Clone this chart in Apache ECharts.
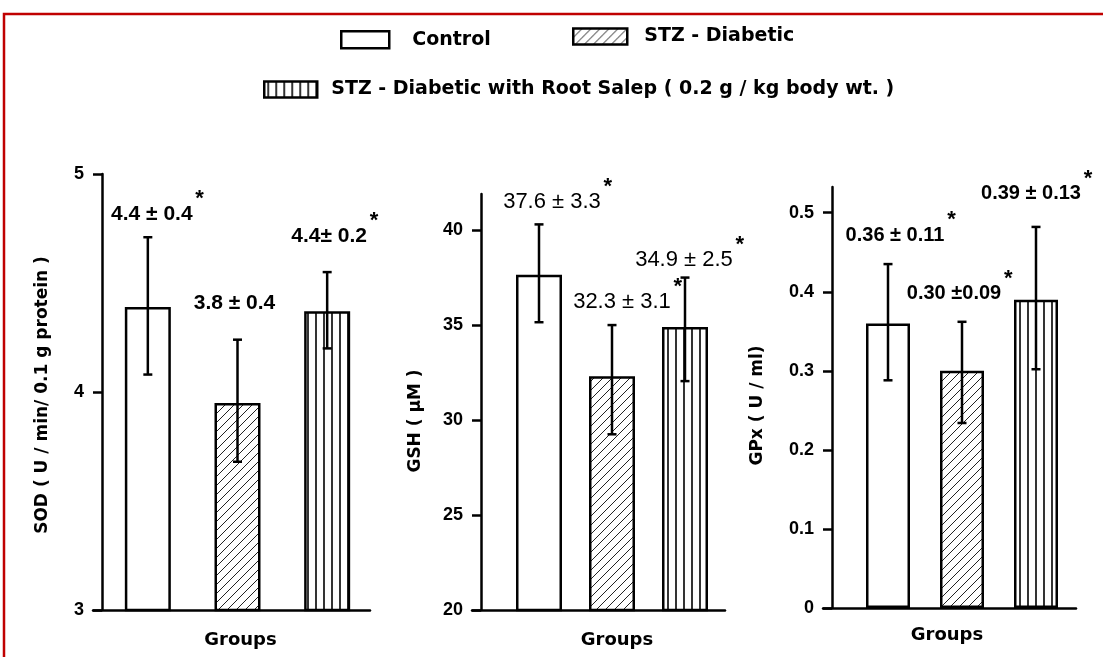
<!DOCTYPE html>
<html><head><meta charset="utf-8">
<script src="https://cdn.jsdelivr.net/npm/echarts@6/dist/echarts.min.js"></script>
<style>html,body{margin:0;padding:0;background:#fff}#c{width:1103px;height:657px}</style>
</head><body><div id="c"></div>
<script>
// ---------------- data ----------------
const groups = ['Control', 'STZ - Diabetic', 'STZ - Diabetic with Root Salep ( 0.2 g / kg body wt. )'];

const sodMean = [4.39, 3.95, 4.37];
const sodLow  = [4.08, 3.68, 4.20];
const sodHigh = [4.71, 4.24, 4.55];
const sodText = ['4.4 ± 0.4', '3.8 ± 0.4', '4.4± 0.2'];
const sodStar = [true, false, true];
const sodTicks = [3, 4, 5];

const gshMean = [37.65, 32.3, 34.9];
const gshLow  = [35.15, 29.25, 32.05];
const gshHigh = [40.3, 35.0, 37.5];
const gshText = ['37.6 ± 3.3', '32.3 ± 3.1', '34.9 ± 2.5'];
const gshStar = [true, true, true];
const gshTicks = [20, 25, 30, 35, 40];

const gpxMean = [0.36, 0.30, 0.39];
const gpxLow  = [0.288, 0.234, 0.302];
const gpxHigh = [0.435, 0.362, 0.482];
const gpxText = ['0.36 ± 0.11', '0.30 ±0.09', '0.39 ± 0.13'];
const gpxStar = [true, true, true];
const gpxTicks = [0, 0.1, 0.2, 0.3, 0.4, 0.5];

const yTitles = ['SOD ( U / min/ 0.1 g protein )', 'GSH ( µM )', 'GPx ( U / ml)'];
const xTitle = 'Groups';

// ---------------- layout / style ----------------
const FF = "'Liberation Sans', Arial, sans-serif";
const FW = "'DejaVu Sans', 'Liberation Sans', sans-serif";
const panels = [
  {mean: sodMean, low: sodLow, high: sodHigh, text: sodText, star: sodStar, ticks: sodTicks, axisMax: 5,
   axisX: 102, lineL: 93, lineR: 370, barL: 103, barR: 372, top: 174, bottom: 610,
   nameGap: 51, namePad: [0, 6, 0, 0], groupsGap: 21, groupsPad: [0, 0, 0, 6],
   labelFont: "bold 21px " + FF, barWidth: 46,
   labelNudge: [[4, 5], [-3, -8], [2, -8]]},
  {mean: gshMean, low: gshLow, high: gshHigh, text: gshText, star: gshStar, ticks: gshTicks, axisMax: 41.9,
   axisX: 481, lineL: 472, lineR: 725, barL: 502.5, barR: 721.5, top: 194, bottom: 610,
   nameGap: 57, namePad: [0, 38, 0, 0], groupsGap: 21, groupsPad: [0, 0, 0, 10],
   labelFont: "22px " + FF, barWidth: 46,
   labelNudge: [[13, 6], [10, 5], [-1, 10]]},
  {mean: gpxMean, low: gpxLow, high: gpxHigh, text: gpxText, star: gpxStar, ticks: gpxTicks, axisMax: 0.5325,
   axisX: 832, lineL: 823, lineR: 1076, barL: 851, barR: 1073, top: 187, bottom: 608,
   nameGap: 66, namePad: [0, 16, 0, 0], groupsGap: 18, groupsPad: [0, 30, 0, 0],
   labelFont: "bold 20px " + FF, barWidth: 44,
   labelNudge: [[7, -1], [-8, 0], [-5, -5]]}
];

function makePattern(kind) {
  const c = document.createElement('canvas');
  const s = kind === 'diag' ? 9 : 8;
  c.width = s; c.height = s;
  const g = c.getContext('2d');
  g.fillStyle = '#fff'; g.fillRect(0, 0, s, s);
  if (kind === 'diag') {
    g.strokeStyle = '#222';
    g.lineWidth = 1;
    g.beginPath();
    g.moveTo(0, s); g.lineTo(s, 0);
    g.moveTo(-2, 2); g.lineTo(2, -2);
    g.moveTo(s - 2, s + 2); g.lineTo(s + 2, s - 2);
    g.stroke();
  } else {
    g.strokeStyle = '#000';
    g.lineWidth = 1.6;
    g.beginPath();
    g.moveTo(4, 0); g.lineTo(4, s);
    g.stroke();
  }
  return {image: c, repeat: 'repeat'};
}
const fills = ['#ffffff', makePattern('diag'), makePattern('vert')];

const mctx = document.createElement('canvas').getContext('2d');
function textW(t, font) { mctx.font = font; return mctx.measureText(t).width; }

const grid = [], xAxis = [], yAxis = [], series = [];
panels.forEach((p, pi) => {
  const fi = pi * 2, bi = pi * 2 + 1;
  const h = p.bottom - p.top;
  // frame grid: carries the baseline that starts left of the y axis
  grid.push({left: p.lineL, top: p.top, width: p.lineR - p.lineL, height: h, outerBoundsMode: 'none'});
  xAxis.push({gridIndex: fi, type: 'value', min: 0, max: 1,
    axisLine: {show: true, onZero: false, lineStyle: {color: '#000', width: 2.5}},
    axisTick: {show: false}, axisLabel: {show: false}, splitLine: {show: false}});
  yAxis.push({gridIndex: fi, type: 'value', min: 0, max: 1, show: false});
  // bar grid
  grid.push({left: p.barL, top: p.top, width: p.barR - p.barL, height: h, outerBoundsMode: 'none'});
  xAxis.push({gridIndex: bi, type: 'category', data: groups,
    axisLine: {show: false}, axisTick: {show: false}, axisLabel: {show: false},
    name: xTitle, nameLocation: 'middle', nameGap: p.groupsGap,
    nameTextStyle: {color: '#000', fontWeight: 'bold', fontSize: 18, fontFamily: FW, padding: p.groupsPad}});
  yAxis.push({gridIndex: bi, type: 'value', min: p.ticks[0], max: p.axisMax,
    interval: p.ticks[1] - p.ticks[0], offset: p.barL - p.axisX,
    axisLine: {show: true, lineStyle: {color: '#000', width: 2.5}},
    axisTick: {show: true, length: 9, lineStyle: {color: '#000', width: 2.5}, customValues: p.ticks},
    axisLabel: {customValues: p.ticks, margin: 18, color: '#000', fontWeight: 'bold', fontSize: 18, fontFamily: FF},
    splitLine: {show: false},
    name: yTitles[pi], nameLocation: 'middle', nameGap: p.nameGap,
    nameTextStyle: {color: '#000', fontWeight: 'bold', fontSize: 17, fontFamily: FW, padding: p.namePad}});

  groups.forEach((gname, g) => {
    series.push({type: 'bar', name: gname, xAxisIndex: bi, yAxisIndex: bi,
      data: groups.map((_, k) => (k === g ? p.mean[g] : '-')),
      barWidth: p.barWidth, barGap: '-100%', silent: true,
      itemStyle: {color: fills[g], borderColor: '#000', borderWidth: 2.5}});
  });

  series.push({type: 'custom', xAxisIndex: bi, yAxisIndex: bi, z: 5, silent: true, clip: false,
    data: groups.map((_, k) => [k, p.low[k], p.high[k]]),
    encode: {x: 0, y: [1, 2]},
    renderItem: function (params, api) {
      const k = params.dataIndex;
      const hi = api.coord([api.value(0), api.value(2)]);
      const lo = api.coord([api.value(0), api.value(1)]);
      const x = hi[0];
      const cap = 4.5;
      const ls = {stroke: '#000', lineWidth: 2.5};
      const t = p.text[k];
      const nx = p.labelNudge[k][0], ny = p.labelNudge[k][1];
      const lx = x + nx;
      const ly = hi[1] - 28 + ny;
      const children = [
        {type: 'line', shape: {x1: x, y1: hi[1], x2: x, y2: lo[1]}, style: ls},
        {type: 'line', shape: {x1: x - cap, y1: hi[1], x2: x + cap, y2: hi[1]}, style: ls},
        {type: 'line', shape: {x1: x - cap, y1: lo[1], x2: x + cap, y2: lo[1]}, style: ls},
        {type: 'text', x: lx, y: ly, style: {text: t, font: p.labelFont, align: 'center', verticalAlign: 'middle', fill: '#000'}}
      ];
      if (p.star[k]) {
        const w = textW(t, p.labelFont);
        children.push({type: 'text', x: lx + w / 2 + 7, y: ly - 15,
          style: {text: '*', font: 'bold 22px ' + FF, align: 'center', verticalAlign: 'middle', fill: '#000'}});
      }
      return {type: 'group', children: children};
    }});
});

const legTxt = {color: '#000', fontWeight: 'bold', fontSize: 19, fontFamily: FW};
const legBase = {orient: 'horizontal', icon: 'rect', padding: 0, selectedMode: false,
  itemStyle: {borderColor: '#000', borderWidth: 2.5}};
const legend = [
  Object.assign({}, legBase, {data: [groups[0]], left: 340, top: 30, itemWidth: 48, itemHeight: 17,
    textStyle: Object.assign({}, legTxt, {padding: [0, 0, 0, 18]})}),
  Object.assign({}, legBase, {data: [groups[1]], left: 572, top: 27, itemWidth: 54, itemHeight: 16,
    textStyle: Object.assign({}, legTxt, {padding: [0, 0, 0, 12]})}),
  Object.assign({}, legBase, {data: [groups[2]], left: 263, top: 80, itemWidth: 53, itemHeight: 16,
    textStyle: Object.assign({}, legTxt, {padding: [0, 0, 0, 9]})})
];

const chart = echarts.init(document.getElementById('c'), null, {renderer: 'canvas'});
chart.setOption({
  animation: false,
  backgroundColor: '#fff',
  graphic: [{type: 'rect', z: 100, silent: true, shape: {x: 4, y: 14, width: 1200, height: 800},
    style: {fill: 'none', stroke: '#c00000', lineWidth: 2.5}}],
  legend: legend,
  grid: grid, xAxis: xAxis, yAxis: yAxis, series: series
});
</script></body></html>
